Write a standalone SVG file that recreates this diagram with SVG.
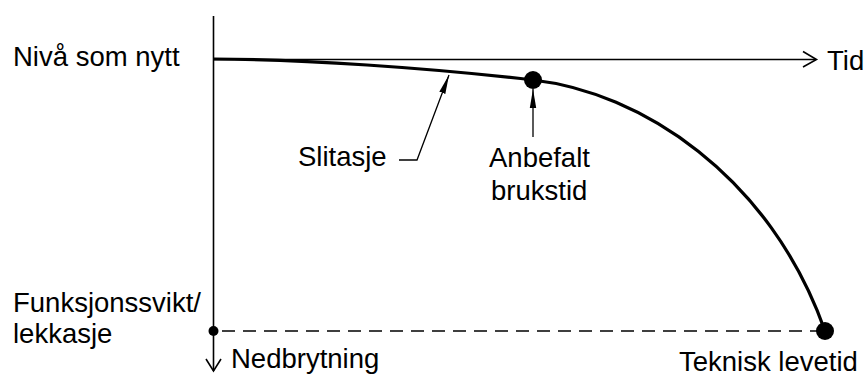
<svg xmlns="http://www.w3.org/2000/svg" width="864" height="376" viewBox="0 0 864 376">
<style>
.t{font-family:"Liberation Sans",Arial,sans-serif;font-size:27.5px;fill:#000}
.ax{stroke:#000;stroke-width:1.6;fill:none}
.crv{stroke:#000;stroke-width:3.2;fill:none}
.ld{stroke:#000;stroke-width:1.3;fill:none}
</style>
<defs>
<marker id="ah" markerWidth="20" markerHeight="8" refX="19" refY="4" orient="auto" markerUnits="userSpaceOnUse">
<path d="M0,0.8 L19,4 L0,7.2 Z" fill="#000"/>
</marker>
</defs>
<rect width="864" height="376" fill="#fff"/>
<g id="connectors">
<path id="y-axis" class="ax" d="M213.5,16 V371"/>
<path class="ax" d="M206,359 L213.5,371 L221,359"/>
<path id="x-axis" class="ax" d="M213.5,59.5 H816"/>
<path class="ax" d="M803,51.5 L816.5,59.5 L803,67"/>
<path id="failure-line" class="ax" d="M222,331 H818" stroke-dasharray="13 8"/>
<path id="curve" class="crv" d="M213.5,59 C300,59 430,68 533,80 C640,92 770,175 825,331"/>
<path id="slitasje-leader" class="ld" d="M399,160 H417 L449,75" marker-end="url(#ah)"/>
<path id="brukstid-leader" class="ld" d="M533,137 V89" marker-end="url(#ah)"/>
</g>
<g id="node-ny">
<text class="t" x="13" y="66">Nivå som nytt</text>
</g>
<g id="node-tid">
<text class="t" x="827" y="69.5">Tid</text>
</g>
<g id="node-slitasje">
<text class="t" x="298" y="166">Slitasje</text>
</g>
<g id="node-anbefalt">
<circle cx="533" cy="80" r="9"/>
<text class="t" x="489" y="167">Anbefalt</text>
<text class="t" x="491" y="200">brukstid</text>
</g>
<g id="node-funksjonssvikt">
<circle cx="213.5" cy="331" r="5"/>
<text class="t" x="13" y="312">Funksjonssvikt/</text>
<text class="t" x="13" y="343">lekkasje</text>
</g>
<g id="node-nedbrytning">
<text class="t" x="231" y="368">Nedbrytning</text>
</g>
<g id="node-teknisk">
<circle cx="825" cy="331" r="9"/>
<text class="t" x="679" y="371">Teknisk levetid</text>
</g>
</svg>
